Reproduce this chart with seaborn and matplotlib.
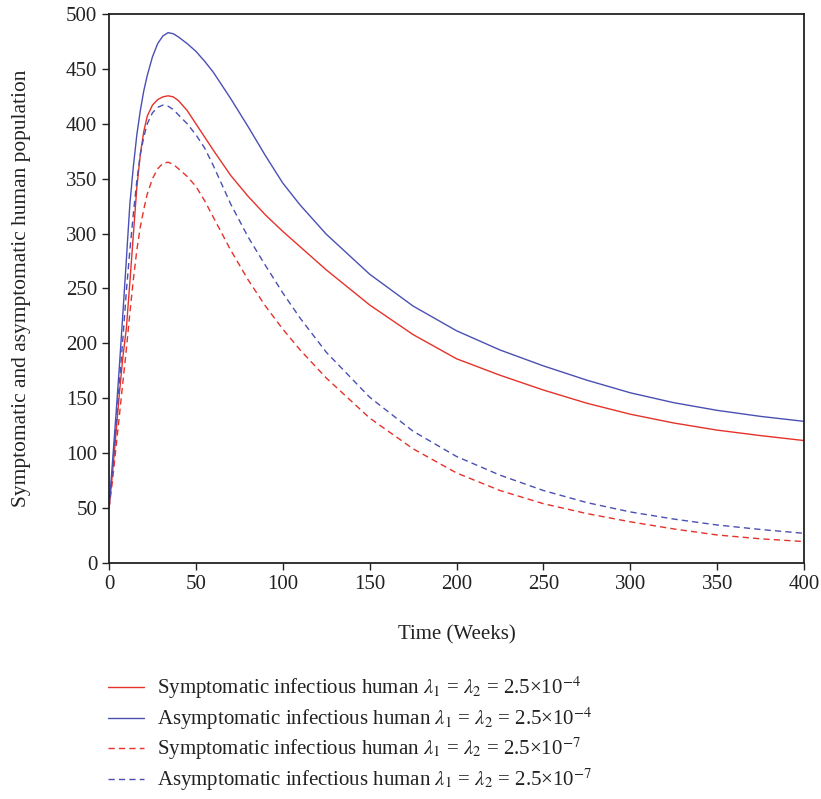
import pandas as pd
import matplotlib
matplotlib.use("Agg")
import matplotlib.pyplot as plt
import seaborn as sns

# Valeurs
weeks = [0, 2, 4, 6, 8, 10, 12, 14, 16, 18, 20, 22, 25, 28, 31, 34, 37, 40, 45, 50,
         55, 60, 70, 80, 90, 100, 110, 125, 150, 175, 200, 225, 250, 275, 300, 325,
         350, 375, 400]

sym_high = [50, 82, 118, 155, 188, 214, 256, 299, 342, 372, 393, 407, 417, 422, 424.5,
            425.5, 424.5, 421, 412, 400, 388, 376, 353, 334, 317, 302, 288, 267, 235,
            208, 186, 171, 157.5, 145.5, 135.5, 127.5, 121, 116, 111.5]
asym_high = [50, 92, 135, 180, 228, 277, 327, 361, 390, 412, 430, 444, 461, 473, 480,
             483, 482, 479, 473, 466, 457, 447, 423, 397.5, 371, 346, 326, 299.5, 263,
             234, 211.5, 194, 179.5, 166.5, 155, 146, 139, 133.5, 129]
sym_low = [50, 75, 105, 135, 165, 195, 228, 258, 285, 306, 322, 336, 350, 359, 364,
           365, 363, 359, 352, 343, 330, 315, 285, 258, 234, 213, 194, 168.5, 132, 104,
           82, 66, 54, 45, 37.5, 31, 25.5, 22, 19.5]
asym_low = [50, 85, 125, 165, 205, 248, 285, 318, 348, 372, 388, 400, 410, 415, 417,
            416, 413, 408, 400, 390, 378, 362, 327, 297, 271, 246, 223, 192, 151, 120,
            97, 80, 66, 55, 46.5, 40, 34.6, 30.5, 27]

lab_sh = r"Symptomatic infectious human $\lambda_1$ = $\lambda_2$ = 2.5×10$^{-4}$"
lab_ah = r"Asymptomatic infectious human $\lambda_1$ = $\lambda_2$ = 2.5×10$^{-4}$"
lab_sl = r"Symptomatic infectious human $\lambda_1$ = $\lambda_2$ = 2.5×10$^{-7}$"
lab_al = r"Asymptomatic infectious human $\lambda_1$ = $\lambda_2$ = 2.5×10$^{-7}$"

series = [(lab_sh, sym_high), (lab_ah, asym_high), (lab_sl, sym_low), (lab_al, asym_low)]
df = pd.concat([pd.DataFrame({"week": weeks, "pop": vals, "serie": lab})
                for lab, vals in series], ignore_index=True)

red = "#e5322a"
blue = "#4a50b3"
palette = {lab_sh: red, lab_ah: blue, lab_sl: red, lab_al: blue}
dashes = {lab_sh: "", lab_ah: "", lab_sl: (4.5, 3), lab_al: (4.5, 3)}

sns.set_theme(style="ticks")
plt.rcParams["font.family"] = ["Liberation Serif", "DejaVu Serif"]
plt.rcParams["mathtext.fontset"] = "stix"

fs = 15
fig = plt.figure(figsize=(8.21, 7.99), dpi=100)
ax = fig.add_axes([0.1328, 0.2954, 0.8465, 0.6871])

sns.lineplot(data=df, x="week", y="pop", hue="serie", style="serie",
             palette=palette, dashes=dashes, hue_order=[l for l, _ in series],
             linewidth=1.0, ax=ax, legend=True)

ax.set_xlim(0, 400)
ax.set_ylim(0, 500)
ax.set_xticks(range(0, 401, 50))
ax.set_yticks(range(0, 501, 50))
ax.tick_params(direction="out", length=5, width=1, labelsize=fs, colors="#222222")
for s in ax.spines.values():
    s.set_color("#222222")
    s.set_linewidth(1.3)
ax.set_xlabel("Time (Weeks)", fontsize=fs, color="#222222")
ax.set_ylabel("Symptomatic and asymptomatic human population", fontsize=15.4, color="#222222")
ax.xaxis.set_label_coords(0.5, -0.113)
ax.yaxis.set_label_coords(-0.112, 0.5)

handles, labels = ax.get_legend_handles_labels()
ax.get_legend().remove()
leg = fig.legend(handles, labels, loc="upper left", bbox_to_anchor=(0.131, 0.156),
                 frameon=False, fontsize=fs, handlelength=1.75, handletextpad=0.6,
                 labelspacing=0.2, borderaxespad=0, borderpad=0)
for t in leg.get_texts():
    t.set_color("#222222")

fig.savefig("out.png", dpi=100)
